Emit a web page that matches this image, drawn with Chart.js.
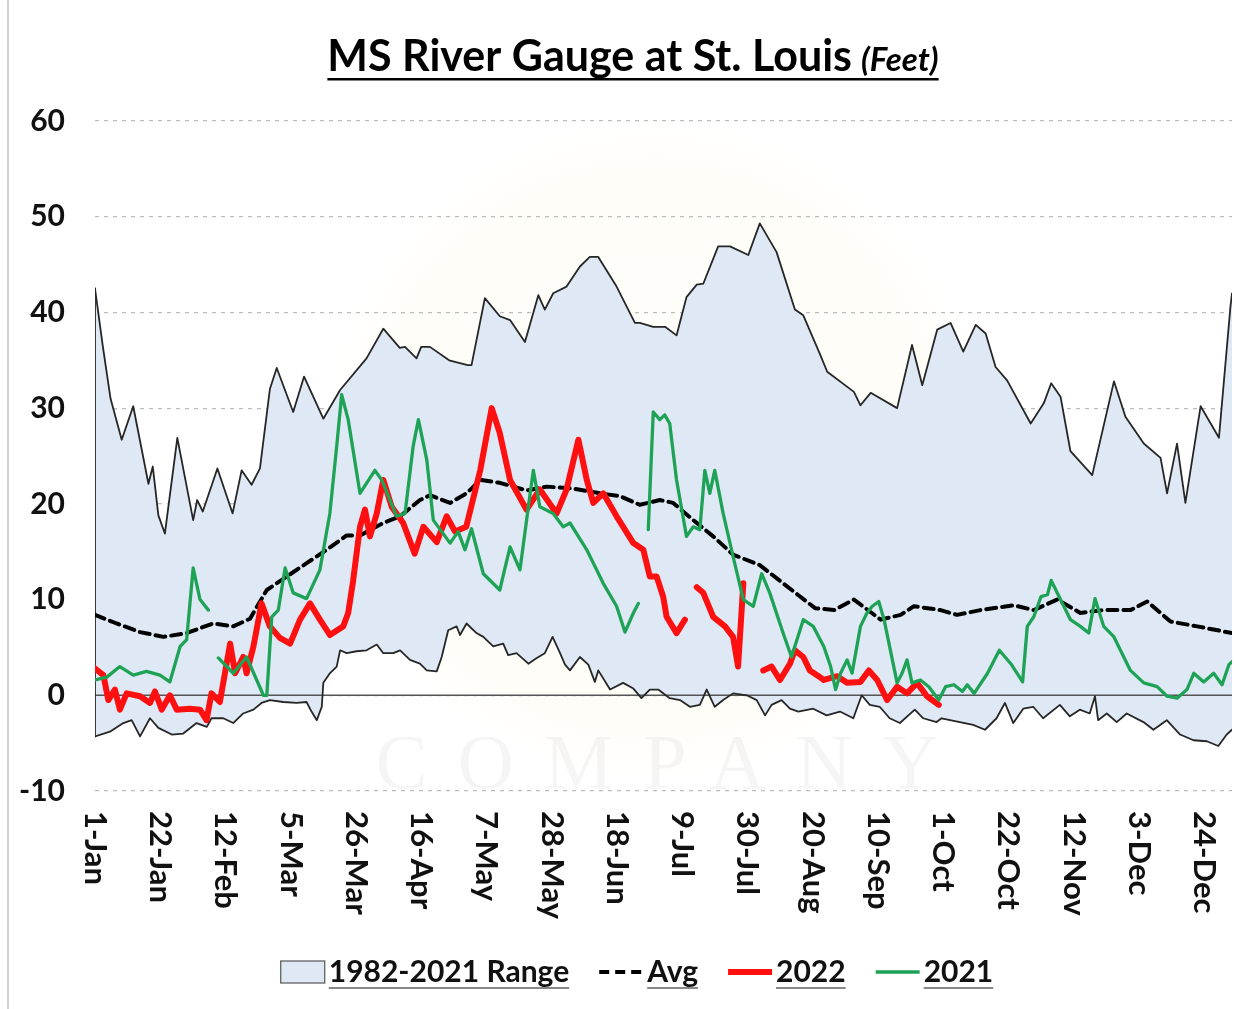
<!DOCTYPE html>
<html>
<head>
<meta charset="utf-8">
<title>MS River Gauge at St. Louis</title>
<script src="https://cdn.jsdelivr.net/npm/chart.js@4.4.0/dist/chart.umd.min.js"></script>
<style>
  html, body { margin: 0; padding: 0; background: #fff; }
  #wrap { position: relative; width: 1234px; height: 1009px; }
</style>
</head>
<body>
<div id="wrap"><canvas id="riverChart" width="1234" height="1009"></canvas></div>
<script>
// day of year (0 = 1-Jan), feet
var tickDays = [0, 21, 42, 63, 84, 105, 126, 147, 168, 189, 210, 231, 252, 273, 294, 315, 336, 357];
var tickLabels = ['1-Jan', '22-Jan', '12-Feb', '5-Mar', '26-Mar', '16-Apr', '7-May', '28-May', '18-Jun',
  '9-Jul', '30-Jul', '20-Aug', '10-Sep', '1-Oct', '22-Oct', '12-Nov', '3-Dec', '24-Dec'];

var rangeMax = [[0,42.5],[2.5,36.5],[5,31],[8.6,26.7],[12.3,30.2],[17.2,22.1],[18.6,23.9],[20.4,18.8],
  [22.5,16.9],[26.5,26.9],[31.6,18.3],[32.9,20.4],[34.7,19.2],[39.4,23.7],[44.3,19.0],[47.2,23.5],[50.4,22.0],
  [53.1,23.7],[56.3,32.0],[58.5,34.2],[63.8,29.6],[67.3,33.3],[73.5,28.9],[78.9,31.9],[87.4,35.2],[92.8,38.3],
  [98.1,36.3],[99.8,36.4],[103.5,35.2],[105,36.4],[107.8,36.4],[114,35.0],[120,34.5],[121.2,34.5],[125.5,41.5],
  [130.3,39.6],[133.6,39.2],[138.4,36.9],[142.7,41.8],[144.8,40.3],[147.5,42.0],[151.8,42.7],[156.1,44.8],
  [159.3,45.8],[162,45.8],[167.9,42.7],[173.8,38.9],[175.4,38.9],[179.7,38.5],[183.5,38.5],[187.2,37.6],
  [190.4,41.6],[193.7,42.9],[195.8,43.0],[200.6,46.9],[204.4,46.9],[210.3,46.0],[214,49.3],[219.4,46.3],
  [225.3,40.3],[228,39.7],[233.3,35.7],[235.7,33.8],[244.3,31.7],[246.4,30.3],[249.7,31.6],[258.2,30.0],
  [263,36.6],[266.3,32.4],[271.1,38.2],[275.4,38.9],[279.5,35.9],[283.5,38.7],[286.7,37.8],[289.9,34.3],
  [293.6,32.9],[301.2,28.4],[305.4,30.5],[307.8,32.6],[310.8,31.2],[314,25.5],[321,23.0],[328,32.8],[331.7,29.1],
  [337.6,26.3],[343,24.8],[345.1,21.1],[348.3,26.3],[351,20.1],[355.9,30.2],[361.8,26.9],[365.5,40.6],[366,42.0]];

var rangeMin = [[0,-4.3],[4.8,-3.8],[9.1,-2.9],[11.8,-2.6],[14.5,-4.3],[17.7,-2.4],[20.4,-3.4],[24.7,-4.1],
  [28.4,-4.0],[32.7,-2.9],[36,-3.3],[37.5,-2.4],[41.3,-2.4],[44.5,-2.9],[47.7,-1.9],[51,-1.5],[53.6,-0.8],
  [56.3,-0.5],[60.6,-0.7],[64.9,-0.8],[68.1,-0.7],[69.7,-1.7],[71.4,-2.6],[73,-1.2],[73.5,1.3],[75.6,2.3],
  [77.8,3.0],[78.9,4.7],[81,4.4],[84.2,4.6],[87.4,4.7],[90.7,5.3],[92.8,4.4],[96,4.4],[98.2,4.7],[101.4,3.7],
  [104.6,3.3],[106.8,2.6],[110,2.5],[111.6,4.0],[113.7,6.8],[116.4,7.2],[117.5,6.3],[119.6,7.5],[122.8,6.5],
  [125,6.1],[128.2,5.1],[131.4,5.4],[133,4.2],[135.7,4.4],[139.5,3.3],[142.2,3.9],[144.8,4.4],[147.3,6.1],
  [149.7,4.4],[151.3,3.2],[152.9,2.6],[156.1,4.0],[158.8,3.2],[160.9,1.4],[162,2.6],[165.8,0.6],[170,1.3],
  [173.3,0.7],[175.9,-0.3],[178.6,0.6],[181.3,0.6],[185,-0.3],[188.3,-0.5],[191.5,-1.2],[194.7,-1.0],[196.9,0.6],
  [199.5,-1.2],[202.2,-0.5],[205.4,0.2],[209.8,0.0],[213,-0.5],[215.7,-2.1],[217.8,-1.0],[221,-0.5],[223.7,-1.4],
  [226.4,-1.7],[231.2,-1.4],[235.5,-2.1],[239.8,-1.7],[244.1,-2.4],[246.8,0.0],[249.4,-1.0],[252.6,-1.2],
  [255.8,-2.4],[259.1,-2.9],[263.9,-1.5],[266.6,-2.4],[270.9,-2.8],[272.5,-2.4],[278.4,-2.8],[282.7,-3.1],
  [286.5,-3.6],[290.2,-2.4],[292.9,-0.8],[295.6,-2.9],[298.8,-1.4],[302,-1.2],[305.2,-2.4],[310.6,-1.0],
  [313.8,-2.2],[317,-1.5],[320.2,-1.9],[321.9,-0.1],[322.9,-2.6],[325.7,-1.9],[328.9,-2.8],[332.1,-1.9],
  [337.5,-2.8],[340.7,-3.6],[345,-2.6],[349.3,-4.1],[353.6,-4.7],[357.9,-4.8],[361.6,-5.3],[364.3,-4.1],[366,-3.6]];

var avgLevel = [[0,8.4],[7,7.5],[14.5,6.6],[22,6.1],[29.5,6.5],[38,7.5],[44.5,7.2],[49.9,8.0],[55.3,11.0],
  [61.7,12.4],[68.1,13.8],[74.6,15.2],[81,16.7],[85.3,16.7],[92.8,18.0],[98.2,18.7],[104.6,20.4],[107.8,20.9],
  [114.3,20.1],[119.6,21.1],[124,22.5],[130.3,22.2],[138.9,21.4],[145.4,21.8],[154,21.6],[162.5,21.1],[169,20.8],
  [175.4,19.9],[181.8,20.4],[186.1,20.1],[192.6,18.3],[199,16.6],[205.4,14.7],[214,13.6],[221.5,11.7],[231.8,9.1],
  [237.9,8.9],[244.3,10.0],[252.9,7.9],[259.3,8.4],[263.6,9.3],[272.2,8.9],[277.5,8.4],[285,8.9],[295.8,9.4],
  [302.2,8.9],[309.7,10.0],[317.2,8.6],[324.7,8.9],[333.3,8.9],[338.7,9.8],[346.2,7.7],[354.8,7.2],[366,6.5]];

// null = no reading (gap in line)
var level2022 = [[0,2.8],[2.7,2.1],[4.3,-0.5],[6.4,0.6],[8,-1.5],[10.2,0.2],[14.5,-0.1],[17.7,-0.8],[19.3,0.4],
  [21.5,-1.5],[24.1,0.0],[26.3,-1.5],[30.6,-1.4],[33.8,-1.5],[35.9,-2.6],[37.5,0.2],[40.2,-0.7],[43.5,5.4],
  [45.1,2.3],[47.7,4.0],[48.8,2.3],[51,5.1],[53.6,9.6],[56.3,7.2],[59.5,6.0],[62.8,5.4],[66,7.9],[69.2,9.6],
  [72.4,7.9],[75.6,6.3],[79.9,7.2],[81.5,8.6],[83.1,12.0],[85.3,17.6],[86.9,19.4],[88.5,16.6],[90.7,19.0],
  [92.8,22.5],[95.5,19.7],[99.2,18.0],[102.9,14.8],[105.7,17.6],[110,16.0],[113.2,18.7],[115.9,17.1],[119.5,17.6],
  [124,23.5],[127.7,30.0],[130.3,27.4],[133.6,22.5],[138.9,19.4],[143.2,21.5],[148.6,19.0],[151.8,21.5],
  [155.6,26.7],[158.3,22.5],[160.4,20.1],[163.6,21.1],[167.9,18.7],[173.3,15.9],[176.5,15.2],[178.6,12.4],
  [180.8,12.4],[182.9,10.3],[184,8.2],[187.2,6.5],[189.9,7.9],[192,null],[193.7,11.3],[195.8,10.7],[199,8.2],
  [202.8,7.2],[205.4,6.1],[207,3.0],[208.7,11.7],[212,null],[215.1,2.6],[217.8,3.0],[220.5,1.6],[223.7,3.3],
  [225.3,4.7],[228,4.0],[230.1,2.6],[233.3,1.9],[234.6,1.6],[238.9,2.0],[242.1,1.3],[246.4,1.4],[249.1,2.6],
  [251.8,1.6],[255,-0.5],[258.2,0.9],[261.4,0.2],[264.6,1.3],[267.8,-0.1],[271.6,-1.0]];

var level2021 = [[0,1.6],[3.8,1.9],[8,3.0],[12.3,2.1],[16.6,2.5],[20.9,2.1],[24.1,1.4],[27.4,5.1],[29.5,5.8],
  [31.6,13.3],[33.8,10.0],[36.5,8.9],[38,null],[39.7,3.9],[44.5,2.3],[48.8,4.0],[54.2,0.0],[55.3,0.0],[56.9,8.2],
  [59,8.9],[61.2,13.3],[63.8,10.7],[68.1,10.1],[72.4,13.1],[75.6,19.0],[77.8,26.0],[79.4,31.4],[81.5,28.8],
  [85.3,21.1],[90.1,23.5],[92.3,22.5],[97.1,18.7],[99.8,19.0],[102.4,26.0],[104.1,28.8],[106.8,24.6],[108.9,18.3],
  [114.3,15.9],[116.9,17.1],[119.1,15.2],[121.2,17.4],[125,12.7],[130.3,11.0],[133.6,15.5],[136.8,13.1],
  [139.5,19.7],[141.1,23.5],[143.2,19.7],[147.5,19.0],[150.7,17.6],[152.9,18.0],[158.3,15.2],[163.6,11.7],
  [167.9,9.3],[170.6,6.6],[173.3,8.6],[174.9,9.6],[176.5,null],[178.1,17.3],[179.7,29.6],[181.8,28.8],
  [183.4,29.3],[185,28.4],[187.2,22.5],[190.4,16.6],[192.6,17.6],[194.7,17.3],[196.3,23.5],[197.9,21.1],
  [199.5,23.5],[202.2,19.0],[205.4,14.5],[208.7,10.0],[211.9,9.3],[214.6,12.7],[217.2,10.7],[221.5,6.5],
  [224.2,4.0],[228,7.9],[231.2,7.2],[234.6,5.1],[236.8,3.0],[238.4,0.6],[240,2.3],[242.1,3.7],[243.7,2.3],
  [246.4,7.2],[248.5,8.6],[250.2,9.3],[252.3,9.8],[254,7.9],[258.2,1.3],[259.8,2.3],[261.4,3.7],[263,1.3],
  [265.7,1.6],[268.4,0.9],[271.6,-0.5],[273.8,0.9],[276.5,1.1],[279.2,0.4],[280.8,1.1],[283,0.2],[287.3,2.3],
  [291.1,4.7],[294.8,3.3],[298.6,1.4],[300.1,7.2],[302.2,8.2],[304.5,10.3],[306.6,10.5],[307.8,12.0],
  [310.8,10.0],[314,7.9],[317.2,7.2],[319.9,6.5],[321.9,10.1],[324.7,7.2],[328,6.1],[333.3,2.6],[337.6,1.3],
  [341.9,0.9],[345.1,-0.1],[348.3,-0.3],[351.5,0.6],[353.7,2.3],[356.9,1.4],[360.1,2.3],[362.8,1.1],[365,3.2],
  [366,3.5]];

var yMin = -10, yMax = 60, yStep = 10;

function toXY(list) {
  return list.map(function (p) { return { x: p[0], y: p[1] }; });
}

var FONT = 'Lato, "Open Sans", sans-serif';
var rangeFill = '#dfe9f5';

// background bits: frame line, faint sun + watermark
var backdrop = {
  id: 'backdrop',
  beforeDraw: function (chart) {
    var ctx = chart.ctx;
    ctx.save();
    ctx.fillStyle = '#fff';
    ctx.fillRect(0, 0, chart.width, chart.height);
    ctx.fillStyle = '#d2d2d2';
    ctx.fillRect(7, 0, 2, chart.height);
    var g = ctx.createRadialGradient(655, 450, 0, 655, 450, 330);
    g.addColorStop(0, 'rgba(255,242,210,0.10)');
    g.addColorStop(0.85, 'rgba(255,240,200,0.13)');
    g.addColorStop(1, 'rgba(255,240,200,0)');
    ctx.fillStyle = g;
    ctx.beginPath();
    ctx.arc(655, 450, 330, 0, Math.PI * 2);
    ctx.fill();
    ctx.restore();
  },
  afterDatasetDraw: function (chart, args) {
    if (args.index !== 0) return;
    var ctx = chart.ctx, a = chart.chartArea, y0 = chart.scales.y.getPixelForValue(0);
    ctx.save();
    ctx.fillStyle = 'rgba(0,0,0,0.04)';
    ctx.font = '78px "Liberation Serif", "DejaVu Serif", serif';
    ctx.letterSpacing = '30px';
    ctx.textAlign = 'center';
    ctx.fillText('COMPANY', 672, 788);
    ctx.strokeStyle = '#555';
    ctx.lineWidth = 1.5;
    ctx.beginPath();
    ctx.moveTo(a.left, y0);
    ctx.lineTo(a.right, y0);
    ctx.stroke();
    ctx.restore();
  }
};

// title, rotated date labels, legend
var decorations = {
  id: 'decorations',
  afterDraw: function (chart) {
    var ctx = chart.ctx, a = chart.chartArea, xs = chart.scales.x;
    ctx.save();

    // title
    var t1 = 'MS River Gauge at St. Louis', t2 = '(Feet)';
    var f1 = 'bold 43px ' + FONT, f2 = 'italic bold 33px ' + FONT;
    ctx.font = f1;
    var w1 = ctx.measureText(t1).width;
    ctx.font = f2;
    var w2 = ctx.measureText(t2).width;
    var gap = 9, tx = 633 - (w1 + gap + w2) / 2;
    ctx.fillStyle = '#000';
    ctx.textBaseline = 'alphabetic';
    ctx.textAlign = 'left';
    ctx.font = f1;
    ctx.fillText(t1, tx, 71);
    ctx.font = f2;
    ctx.fillText(t2, tx + w1 + gap, 71);
    ctx.fillRect(tx, 78, w1 + gap + w2, 2.5);

    // x labels, reading top to bottom
    ctx.font = 'bold 31px ' + FONT;
    ctx.fillStyle = '#111';
    ctx.textBaseline = 'middle';
    tickDays.forEach(function (d, i) {
      ctx.save();
      ctx.translate(xs.getPixelForValue(d), a.bottom + 20);
      ctx.rotate(Math.PI / 2);
      ctx.fillText(tickLabels[i], 0, 0);
      ctx.restore();
    });

    // legend
    var ds = chart.data.datasets;
    var items = [ds[0], ds[2], ds[4], ds[3]];
    var sym = 44, pad = 4, spacing = 30, ly = 972;
    ctx.font = 'bold 30px ' + FONT;
    var total = 0;
    items.forEach(function (it, i) {
      total += sym + pad + ctx.measureText(it.label).width + (i ? spacing : 0);
    });
    var lx = 637 - total / 2;
    items.forEach(function (it, i) {
      if (i === 0) {
        ctx.fillStyle = it.backgroundColor;
        ctx.fillRect(lx, ly - 11, sym, 22);
        ctx.strokeStyle = '#555';
        ctx.lineWidth = 1.2;
        ctx.strokeRect(lx, ly - 11, sym, 22);
      } else {
        ctx.strokeStyle = it.borderColor;
        ctx.lineWidth = it.borderWidth;
        ctx.setLineDash(it.borderDash || []);
        ctx.beginPath();
        ctx.moveTo(lx, ly);
        ctx.lineTo(lx + sym, ly);
        ctx.stroke();
        ctx.setLineDash([]);
      }
      var tw = ctx.measureText(it.label).width;
      ctx.fillStyle = '#111';
      ctx.textBaseline = 'middle';
      ctx.fillText(it.label, lx + sym + pad, ly);
      ctx.fillStyle = '#888';
      ctx.fillRect(lx + sym + pad, ly + 15, tw, 2);
      lx += sym + pad + tw + spacing;
    });
    ctx.restore();
  }
};

var ctx = document.getElementById('riverChart').getContext('2d');
var riverChart = new Chart(ctx, {
  type: 'line',
  data: {
    datasets: [
      {
        label: '1982-2021 Range',
        data: toXY(rangeMax),
        borderColor: '#262626',
        borderWidth: 1.8,
        backgroundColor: rangeFill,
        fill: '+1',
        order: 6
      },
      {
        label: 'Range low',
        data: toXY(rangeMin),
        borderColor: '#262626',
        borderWidth: 1.8,
        fill: false,
        order: 5
      },
      {
        label: 'Avg',
        data: toXY(avgLevel),
        borderColor: '#000',
        borderWidth: 4,
        borderDash: [10, 6],
        fill: false,
        order: 3
      },
      {
        label: '2021',
        data: toXY(level2021),
        borderColor: '#1ea356',
        borderWidth: 3.3,
        fill: false,
        order: 1
      },
      {
        label: '2022',
        data: toXY(level2022),
        borderColor: '#ff1010',
        borderWidth: 6,
        fill: false,
        order: 2
      },
      {
        label: 'edge',
        data: [{ x: rangeMax[0][0], y: rangeMax[0][1] }, { x: rangeMin[0][0], y: rangeMin[0][1] }],
        borderColor: '#262626',
        borderWidth: 1.8,
        fill: false,
        order: 4
      }
    ]
  },
  options: {
    responsive: false,
    animation: false,
    devicePixelRatio: 1,
    spanGaps: false,
    elements: {
      point: { radius: 0, hoverRadius: 0 },
      line: { tension: 0, borderJoinStyle: 'round', borderCapStyle: 'round' }
    },
    layout: { padding: { top: 121, right: 2, left: 0, bottom: 0 } },
    plugins: {
      legend: { display: false },
      tooltip: { enabled: false },
      title: { display: false }
    },
    scales: {
      x: {
        type: 'linear',
        min: 0,
        max: 366,
        grid: { display: false },
        border: { display: false },
        ticks: { display: false },
        afterFit: function (scale) { scale.height = 218; }
      },
      y: {
        min: yMin,
        max: yMax,
        afterFit: function (scale) { scale.width = 95; },
        ticks: {
          stepSize: yStep,
          padding: 30,
          color: '#111',
          font: { family: FONT, size: 30, weight: 'bold' }
        },
        grid: { color: '#bdbdbd', lineWidth: 1.2, drawTicks: false },
        border: { display: false, dash: [4, 5] }
      }
    }
  },
  plugins: [backdrop, decorations]
});
</script>
</body>
</html>
